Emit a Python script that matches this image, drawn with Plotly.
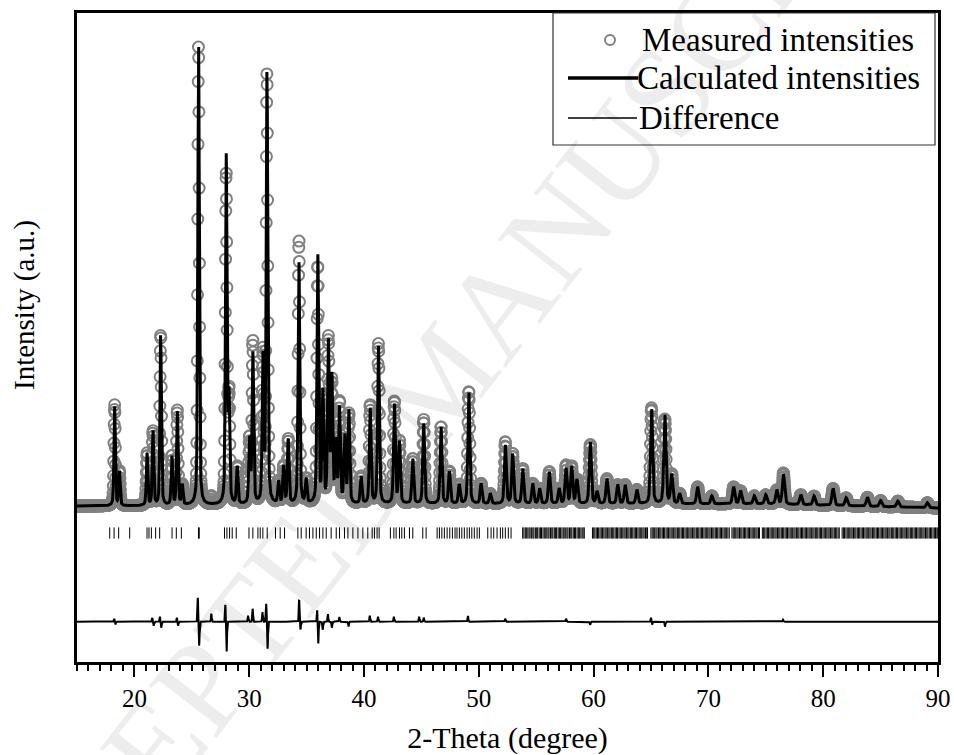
import numpy as np
import plotly.graph_objects as go

# ---------------- data ----------------
# reflection list of the refined profile (2-theta in degree, net height in a.u.)
peak_pos = [18.28, 18.70, 21.10, 21.62, 22.29, 23.27, 23.74, 24.17, 25.59, 28.00,
            28.24, 28.96, 30.03, 30.32, 31.20, 31.55, 32.56, 33.00, 33.40, 34.33,
            34.96, 35.98, 36.42, 36.90, 37.20, 37.55, 37.87, 38.33, 38.68, 39.75,
            40.54, 41.26, 42.65, 43.09, 44.25, 45.20, 46.71, 47.44, 48.30, 49.13,
            50.20, 51.00, 52.31, 52.95, 53.83, 54.70, 55.30, 56.14, 57.00, 57.60,
            58.09, 58.55, 59.71, 60.30, 61.16, 62.10, 62.75, 63.77, 65.05, 66.21,
            66.80, 67.50, 69.06, 70.30, 72.20, 72.80, 74.00, 75.00, 75.96, 76.54,
            78.05, 79.20, 80.86, 82.00, 83.85, 85.00, 86.50, 89.07]
peak_height = [99, 34, 52, 74, 172, 49, 93, 20, 464, 347,
               104, 37, 64, 150, 144, 434, 22, 37, 64, 244,
               24, 247, 110, 159, 124, 60, 95, 67, 92, 27,
               95, 157, 100, 62, 45, 80, 77, 32, 19, 112,
               20, 10, 59, 50, 35, 20, 15, 32, 15, 35,
               37, 24, 62, 12, 25, 19, 19, 14, 95, 89,
               29, 10, 17, 8, 17, 13, 8, 9, 14, 30,
               10, 9, 17, 8, 9, 6, 6, 5]

# background anchors
bg_x = [15, 20, 30, 45, 60, 75, 90]
bg_y = [1, 1, 2, 3, 3, 3, -1]

# misfit (measured - calculated) features
diff_pos = [18.25, 18.35, 21.55, 21.68, 22.22, 22.34, 23.70, 23.80, 25.52, 25.64,
            26.70, 27.92, 28.03, 29.90, 30.30, 31.15, 31.48, 31.60, 34.35, 34.46,
            35.92, 36.01, 36.40, 36.85, 37.20, 37.85, 38.65, 40.50, 41.22, 42.60,
            44.80, 45.20, 49.05, 52.30, 57.60, 59.70, 65.00, 65.10, 66.22, 76.50]
diff_amp = [3, -3, 4, -4, 5, -6, 4, -4, 24, -24,
            8, 17, -31, 6, 13, 10, 18, -27, 22, -8,
            12, -23, -8, 8, -6, 5, -5, 6, 5, 5,
            5, 4, 6, 3, 3, -3, 4, -3, -5, 2]
diff_offset = -114.7

# Bragg reflection positions (tick marks)
bragg_pos = [
    17.85, 18.23, 18.63, 19.59, 21.10, 21.27, 21.48, 21.85, 22.20, 23.28, 23.65, 24.09,
    25.58, 25.65, 27.85, 28.06, 28.29, 28.52, 28.87, 29.98, 30.32, 30.76, 30.96, 31.19,
    31.57, 32.29, 32.70, 33.08, 34.24, 34.53, 34.96, 35.25, 35.55, 35.84, 36.13, 36.42,
    36.71, 37.14, 37.58, 37.87, 38.30, 38.60, 39.03, 39.47, 39.90, 40.33, 40.71, 40.91,
    41.14, 41.32, 42.30, 42.60, 42.80, 43.09, 43.29, 43.52, 43.96, 44.25, 45.12, 45.41,
    46.37, 46.57, 46.78, 47.00, 47.24, 47.47, 47.70, 47.93, 48.10, 48.31, 48.52, 48.74,
    48.98, 49.18, 49.39, 49.61, 49.85, 50.05, 50.78, 51.07, 51.30, 51.59, 51.88, 52.08,
    52.31, 52.57, 52.81,
    53.82, 53.93, 54.05, 54.14, 54.27, 54.38, 54.47, 54.60, 54.71, 54.80, 54.93, 55.04,
    55.13, 55.26, 55.37, 55.46, 55.59, 55.70, 55.79, 55.92, 56.03, 56.12, 56.25, 56.36,
    56.45, 56.58, 56.69, 56.78, 56.91, 57.02, 57.11, 57.24, 57.35, 57.44, 57.57, 57.68,
    57.77, 57.90, 58.01, 58.10, 58.23, 58.34, 58.43, 58.56, 58.67, 58.76, 58.89, 59.00,
    59.09, 59.19,
    59.90, 60.01, 60.11, 60.23, 60.34, 60.44, 60.56, 60.67, 60.77, 60.89, 61.00, 61.10,
    61.22, 61.33, 61.43, 61.55, 61.66, 61.76, 61.88, 61.99, 62.09, 62.21, 62.32, 62.42,
    62.54, 62.65, 62.75, 62.87, 62.98, 63.08, 63.20, 63.31, 63.41, 63.53, 63.64, 63.74,
    63.86, 63.97, 64.07, 64.19, 64.30, 64.40, 64.52, 64.63, 64.70,
    64.99, 65.10, 65.20, 65.32, 65.43, 65.53, 65.65, 65.76, 65.86, 65.98, 66.09, 66.19,
    66.31, 66.42, 66.52, 66.64, 66.75, 66.85, 66.97, 67.08, 67.18, 67.30, 67.41, 67.51,
    67.63, 67.74, 67.84, 67.96, 68.07, 68.17, 68.29, 68.40, 68.50, 68.62, 68.73, 68.83,
    68.95, 69.06, 69.16, 69.28, 69.39, 69.49, 69.61, 69.72, 69.82, 69.94, 70.05, 70.15,
    70.27, 70.38, 70.48, 70.60, 70.71, 70.81, 70.93, 71.04, 71.14, 71.26, 71.37, 71.47,
    71.59, 71.70, 71.82,
    72.05, 72.16, 72.26, 72.38, 72.49, 72.59, 72.71, 72.82, 72.92, 73.04, 73.15, 73.25,
    73.37, 73.48, 73.58, 73.70, 73.81, 73.91, 74.03, 74.14, 74.24, 74.36, 74.45,
    74.70, 74.81, 74.91, 75.03, 75.14, 75.24, 75.36, 75.47, 75.57, 75.69, 75.80, 75.90,
    76.02, 76.13, 76.23, 76.35, 76.46, 76.56, 76.68, 76.79, 76.89, 77.01, 77.12, 77.22,
    77.34, 77.45, 77.55, 77.67, 77.78, 77.88, 78.00, 78.11, 78.21, 78.33, 78.44, 78.54,
    78.66, 78.77, 78.87, 78.99, 79.10, 79.20, 79.32, 79.43, 79.53, 79.65, 79.76, 79.86,
    79.98, 80.09, 80.19, 80.31, 80.42, 80.52, 80.64, 80.75, 80.85, 80.97, 81.08, 81.18,
    81.30, 81.40,
    81.65, 81.76, 81.86, 81.98, 82.09, 82.19, 82.31, 82.42, 82.52, 82.64, 82.75, 82.85,
    82.97, 83.08, 83.18, 83.30, 83.41, 83.51, 83.63, 83.74, 83.84, 83.96, 84.07, 84.17,
    84.29, 84.40, 84.50, 84.62, 84.73, 84.83, 84.95, 85.06, 85.16, 85.28, 85.39, 85.49,
    85.61, 85.72, 85.82, 85.94, 86.05, 86.15, 86.27, 86.38, 86.48, 86.60, 86.71, 86.81,
    86.93, 87.04, 87.14, 87.26, 87.37, 87.47, 87.59, 87.70, 87.80, 87.92, 88.03, 88.13,
    88.25, 88.36, 88.46, 88.58, 88.69, 88.79, 88.91, 89.02, 89.12, 89.24, 89.35, 89.45,
    89.57, 89.68, 89.78, 89.90, 89.98]
bragg_level = -26

x_ticks = [20, 30, 40, 50, 60, 70, 80, 90]

# ---------------- profile built from the reflection list ----------------
step = 0.02
tt = np.round(np.arange(15.0, 90.0 + step / 2, step), 2)


def pseudo_voigt(x, p, w, eta=0.4):
    d = (x - p) / w
    return eta / (1 + 4 * d ** 2) + (1 - eta) * np.exp(-4 * np.log(2) * d ** 2)


calc = np.interp(tt, bg_x, bg_y).astype(float)
for p, h in zip(peak_pos, peak_height):
    w = 0.14 + 0.0015 * (p - 15)
    calc += h * pseudo_voigt(tt, p, w)

diff = np.zeros_like(tt)
for p, a in zip(diff_pos, diff_amp):
    diff += a * np.exp(-4 * np.log(2) * ((tt - p) / 0.08) ** 2)

meas = calc + diff

# ---------------- figure ----------------
FONT = "Liberation Serif"
W, H = 954, 755
PL, PR, PT, PB = 77, 938, 13, 662   # plot-area edges
L, T, R, B = PL, PT, W - PR, H - PB
pw, ph = PR - PL, PB - PT


def xp(px):
    return (px - PL) / pw


def yp(py):
    return (PB - py) / ph


fig = go.Figure()
fig.add_trace(go.Scatter(x=tt, y=meas, mode="markers", name="Measured intensities",
                         marker=dict(symbol="circle-open", size=11, color="#808080",
                                     line=dict(width=2, color="#808080")),
                         showlegend=False))
fig.add_trace(go.Scatter(x=tt, y=calc, mode="lines", name="Calculated intensities",
                         line=dict(color="black", width=3), showlegend=False))
fig.add_trace(go.Scatter(x=tt, y=diff + diff_offset, mode="lines", name="Difference",
                         line=dict(color="black", width=2), showlegend=False))
fig.add_trace(go.Scatter(x=bragg_pos, y=[bragg_level] * len(bragg_pos), mode="markers",
                         name="Bragg positions",
                         marker=dict(symbol="line-ns-open", size=8, color="black",
                                     line=dict(width=1, color="black")),
                         showlegend=False))

# custom legend box
shapes = [
    dict(type="rect", xref="paper", yref="paper", x0=xp(553), x1=xp(935), y0=yp(145), y1=yp(13),
         line=dict(color="#333333", width=1.2), fillcolor="white", layer="above"),
    dict(type="circle", xref="paper", yref="paper", xsizemode="pixel", ysizemode="pixel",
         xanchor=xp(610), yanchor=yp(40), x0=-5, x1=5, y0=-5, y1=5,
         line=dict(color="#808080", width=2), layer="above"),
    dict(type="line", xref="paper", yref="paper", x0=xp(568), x1=xp(638), y0=yp(78), y1=yp(78),
         line=dict(color="black", width=3.5), layer="above"),
    dict(type="line", xref="paper", yref="paper", x0=xp(568), x1=xp(637), y0=yp(118), y1=yp(118),
         line=dict(color="black", width=1.5), layer="above"),
]
annotations = [
    dict(text="ACCEPTED MANUSCRIPT", xref="paper", yref="paper", x=xp(440), y=yp(380),
         showarrow=False, textangle=-52, font=dict(family=FONT, size=130, color="rgba(0,0,0,0.07)")),
    dict(text="Measured intensities", xref="paper", yref="paper", x=xp(640), y=yp(40),
         xanchor="left", yanchor="middle", showarrow=False, font=dict(family=FONT, size=33, color="black")),
    dict(text="Calculated intensities", xref="paper", yref="paper", x=xp(635), y=yp(78),
         xanchor="left", yanchor="middle", showarrow=False, font=dict(family=FONT, size=33, color="black")),
    dict(text="Difference", xref="paper", yref="paper", x=xp(637), y=yp(118),
         xanchor="left", yanchor="middle", showarrow=False, font=dict(family=FONT, size=33, color="black")),
    dict(text="Intensity (a.u.)", xref="paper", yref="paper", x=xp(24), y=yp(305),
         xanchor="center", yanchor="middle", showarrow=False, textangle=-90,
         font=dict(family=FONT, size=29, color="black")),
]

fig.update_layout(
    width=W, height=H, margin=dict(l=L, r=R, t=T, b=B, autoexpand=False),
    paper_bgcolor="white", plot_bgcolor="white",
    font=dict(family=FONT, color="black"),
    shapes=shapes, annotations=annotations, showlegend=False,
    xaxis=dict(range=[15, 90], tickvals=x_ticks, ticks="outside", ticklen=12, tickwidth=2,
               tickcolor="black", showline=True, linecolor="black", linewidth=2.5, mirror=True,
               showgrid=False, zeroline=False, tickfont=dict(family=FONT, size=25),
               minor=dict(dtick=1, ticks="outside", ticklen=6, tickwidth=1.5, tickcolor="black",
                          showgrid=False),
               title=dict(text="2-Theta (degree)", font=dict(family=FONT, size=30), standoff=22)),
    yaxis=dict(range=[-155, 494], showticklabels=False, ticks="", showline=True,
               linecolor="black", linewidth=2.5, mirror=True, showgrid=False, zeroline=False),
)

fig.write_html("out.html", config={"displayModeBar": False},
               post_script="document.body.style.margin='0';document.body.style.overflow='hidden';")
